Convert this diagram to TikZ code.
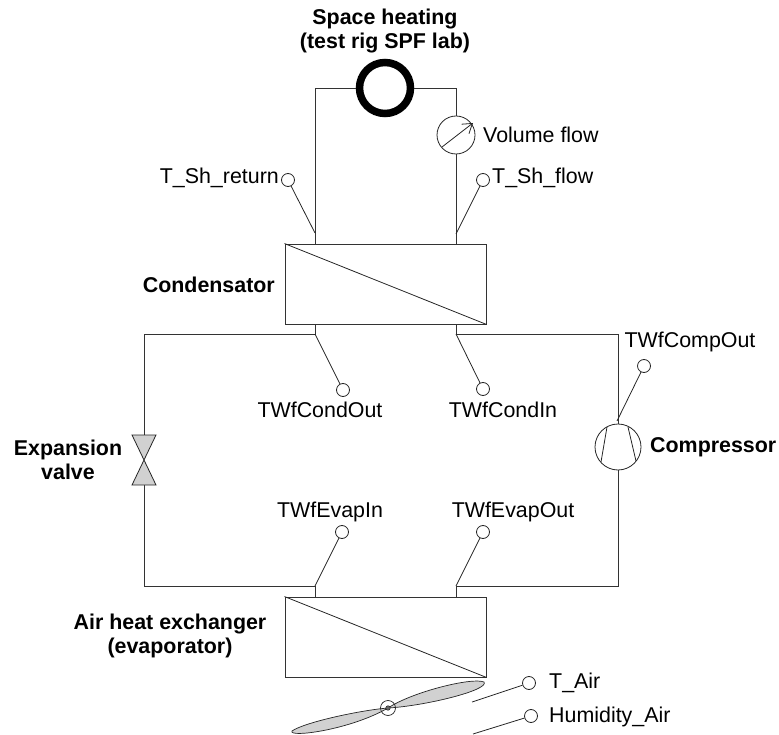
\documentclass[tikz,border=0pt]{standalone}
\usepackage{fontspec}
\setmainfont{Liberation Sans}
\usetikzlibrary{arrows.meta}
\tikzset{
  pipe/.style={draw=black!80,line width=0.9pt},
  hx/.style={draw=black!80,line width=0.9pt,minimum width=201pt,minimum height=80pt,inner sep=0pt},
  thin line/.style={draw=black!85,line width=0.8pt},
  probe/.style={circle,draw=black!85,line width=0.8pt,fill=white,minimum size=13pt,inner sep=0pt},
  lab/.style={font=\fontsize{21.4pt}{24pt}\selectfont,inner sep=0pt},
  blab/.style={font=\fontsize{21.4pt}{24pt}\selectfont\bfseries,inner sep=0pt,align=center},
  blade/.style={draw=black!85,line width=0.7pt,fill=black!18},
}
\begin{document}
\begin{tikzpicture}[x=1pt,y=-1pt]
\useasboundingbox (0,0) rectangle (779,735);
% heat exchangers
\node[hx] (cond) at (385.5,284) {};
\node[hx] (evap) at (385.5,637) {};
\draw[thin line] (cond.north west) -- (cond.south east);
\draw[thin line] (evap.north west) -- (evap.south east);
% coordinates
\coordinate (cTL) at (315,244);
\coordinate (cTR) at (456,244);
\coordinate (cBL) at (315,324);
\coordinate (cBR) at (456,324);
\coordinate (eTL) at (315,597);
\coordinate (eTR) at (456,597);
% space heating circuit
\node[circle,draw=black,line width=7.5pt,minimum size=51pt,inner sep=0pt,fill=white] (load) at (385,88) {};
\node[circle,draw=black!85,line width=0.8pt,minimum size=38pt,inner sep=0pt] (flow) at (456,135) {};
\draw[pipe] (load.west) -| (cTL);
\draw[pipe] (load.east) -| (flow.north);
\draw[pipe] (flow.south) -- (cTR);
\coordinate (fa) at (442,147);
\coordinate (fb) at (473,123);
\draw[thin line,-{Straight Barb[length=9pt,width=12pt]}] (fa) -- (fb);
% main loop
\node[circle,draw=black!85,line width=0.8pt,minimum size=46pt,inner sep=0pt] (comp) at (618,447) {};
\draw[thin line] (607,427) -- (601,462);
\draw[thin line] (628,427) -- (636,461);
\coordinate (vT) at (144,435);
\coordinate (vB) at (144,485);
\draw[pipe] (cBL) -- (315,334) -| (vT);
\draw[pipe] (vB) |- (315,586) -- (eTL);
\draw[pipe] (cBR) -- (456,334) -| (comp.north);
\draw[pipe] (comp.south) |- (456,586) -- (eTR);
\draw[thin line,fill=black!18] (132,435) -- (156,435) -- (132,485) -- (156,485) -- cycle;
% probes
\node[probe] (pShR) at (288,180) {};
\coordinate (jShR) at (315,233);
\draw[thin line] (pShR) -- (jShR);
\node[probe] (pShF) at (483,180) {};
\coordinate (jShF) at (456,234);
\draw[thin line] (pShF) -- (jShF);
\node[probe] (pCO) at (343,390) {};
\coordinate (jCO) at (315,334);
\draw[thin line] (jCO) -- (pCO);
\node[probe] (pCI) at (483,389) {};
\coordinate (jCI) at (456,334);
\draw[thin line] (jCI) -- (pCI);
\node[probe] (pCC) at (644,366) {};
\coordinate (jCC) at (617,421);
\draw[thin line] (jCC) -- (pCC);
\node[probe] (pEI) at (342,532) {};
\coordinate (jEI) at (315,586);
\draw[thin line] (jEI) -- (pEI);
\node[probe] (pEO) at (483,532) {};
\coordinate (jEO) at (456,586);
\draw[thin line] (jEO) -- (pEO);
\node[probe] (pA) at (529,683) {};
\coordinate (pAe) at (472,702);
\draw[thin line] (pAe) -- (pA);
\node[probe] (pH) at (531,716) {};
\coordinate (pHe) at (473,734);
\draw[thin line] (pHe) -- (pH);
% fan
\coordinate (hub) at (388,708);
\draw[blade] (hub) .. controls (412,692) and (472,677) .. (484,682) .. controls (490,690) and (425,706) .. (hub) -- cycle;
\draw[blade] (hub) .. controls (362,710) and (305,722) .. (292,731) .. controls (288,738) and (350,730) .. (hub) -- cycle;
\node[circle,draw=black!85,line width=0.7pt,minimum size=15pt,inner sep=0pt] (hubo) at (hub) {};
\node[circle,draw=black!85,fill=black!60,line width=0.5pt,minimum size=4.5pt,inner sep=0pt] (hubi) at (hub) {};
% labels
\node[blab] (tSpace) at (385,31) {Space heating\\(test rig SPF lab)};
\node[lab,anchor=west] (tFlow) at (483,135) {Volume flow};
\node[lab,anchor=east] (tShR) at (279,178) {T\_Sh\_return};
\node[lab,anchor=west] (tShF) at (492,178) {T\_Sh\_flow};
\node[blab,anchor=east] (tCond) at (275,285) {Condensator};
\node[lab] (tCO) at (320,410) {TWfCondOut};
\node[lab] (tCI) at (503,410) {TWfCondIn};
\node[lab] (tCC) at (690,342) {TWfCompOut};
\node[blab,anchor=west] (tComp) at (650,447) {Compressor};
\node[blab] (tExp) at (68,460) {Expansion\\valve};
\node[lab] (tEI) at (330,512) {TWfEvapIn};
\node[lab] (tEO) at (513,512) {TWfEvapOut};
\node[blab] (tEvap) at (170,636) {Air heat exchanger\\(evaporator)};
\node[lab,anchor=west] (tAir) at (549,683) {T\_Air};
\node[lab,anchor=west] (tHum) at (549,717) {Humidity\_Air};
\end{tikzpicture}
\end{document}
